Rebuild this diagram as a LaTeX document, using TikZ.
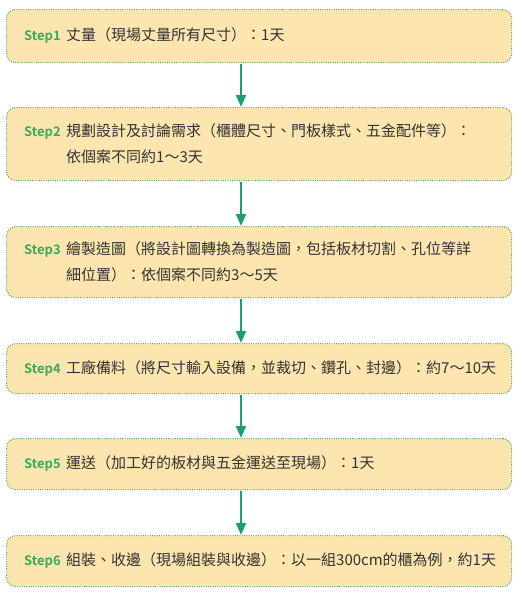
\documentclass[tikz,border=0pt]{standalone}
\usepackage{fontspec}
\setmainfont{Noto Sans CJK TC}
\newfontfamily\stepfont{Noto Sans CJK TC}[BoldFont={Noto Sans CJK TC Bold}]
\usetikzlibrary{arrows.meta}
\definecolor{boxfill}{HTML}{FCE5AF}
\definecolor{boxline}{HTML}{55A85A}
\definecolor{arrowc}{HTML}{1E9E6C}
\definecolor{stepc}{HTML}{3AAA5C}
\definecolor{txt}{HTML}{333333}
\newcommand{\stp}[1]{\makebox[42pt][l]{{\stepfont\bfseries\fontsize{13}{13}\selectfont\color{stepc}#1}}}
\tikzset{
  box/.style={draw=boxline, fill=boxfill, line width=1.2pt, dash pattern=on 0.9pt off 1.4pt,
    rounded corners=9pt, minimum width=505pt, anchor=north west, inner sep=0pt},
  lbl/.style={anchor=west, inner sep=0pt, align=left, text=txt, font=\fontsize{15}{26}\selectfont},
  flow/.style={draw=arrowc, line width=2pt, -{Triangle[width=10pt,length=12pt]}, shorten <=0.8pt}
}
\begin{document}
\begin{tikzpicture}[x=1pt,y=-1pt]
\useasboundingbox (0,0) rectangle (526,600);
\coordinate (ax) at (241,0);
\node[box, minimum height=53pt] (b1) at (6,9) {};
\node[box, minimum height=73pt] (b2) at (6,107) {};
\node[box, minimum height=71pt] (b3) at (6,226) {};
\node[box, minimum height=50pt] (b4) at (6,343) {};
\node[box, minimum height=51pt] (b5) at (6,438) {};
\node[box, minimum height=51pt] (b6) at (6,535) {};
\node[lbl] (t1) at (24,35.5) {\stp{Step1}丈量（現場丈量所有尺寸）：1天};
\node[lbl] (t2) at (24,144) {\stp{Step2}規劃設計及討論需求（櫃體尺寸、門板樣式、五金配件等）：\\\hspace*{42pt}依個案不同約1～3天};
\node[lbl] (t3) at (24,261.5) {\stp{Step3}繪製造圖（將設計圖轉換為製造圖，包括板材切割、孔位等詳\\\hspace*{42pt}細位置）：依個案不同約3～5天};
\node[lbl] (t4) at (24,368) {\stp{Step4}工廠備料（將尺寸輸入設備，並裁切、鑽孔、封邊）：約7～10天};
\node[lbl] (t5) at (24,463.5) {\stp{Step5}運送（加工好的板材與五金運送至現場）：1天};
\node[lbl] (t6) at (24,560.5) {\stp{Step6}組裝、收邊（現場組裝與收邊）：以一組300cm的櫃為例，約1天};
\draw[flow] (b1.south -| ax) -- (b2.north -| ax);
\draw[flow] (b2.south -| ax) -- (b3.north -| ax);
\draw[flow] (b3.south -| ax) -- (b4.north -| ax);
\draw[flow] (b4.south -| ax) -- (b5.north -| ax);
\draw[flow] (b5.south -| ax) -- (b6.north -| ax);
\end{tikzpicture}
\end{document}
